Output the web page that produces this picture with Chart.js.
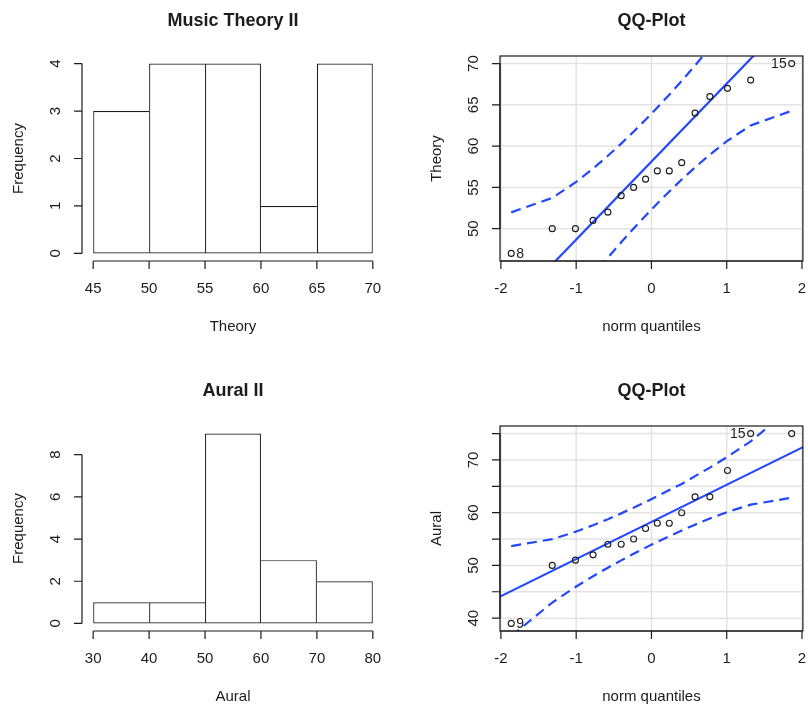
<!DOCTYPE html>
<html>
<head>
<meta charset="utf-8">
<title>Music Theory II / Aural II</title>
<script src="https://cdn.jsdelivr.net/npm/chart.js@4.4.1/dist/chart.umd.min.js"></script>
<style>
  html, body { margin: 0; padding: 0; background: #fff; }
  #wrap { position: relative; width: 808px; height: 706px; overflow: hidden; }
  #wrap canvas { position: absolute; }
</style>
</head>
<body>
<div id="wrap">
  <canvas id="histTheory" width="418" height="370" style="left:0;top:0"></canvas>
  <canvas id="qqTheory" width="390" height="370" style="left:418px;top:0"></canvas>
  <canvas id="histAural" width="418" height="336" style="left:0;top:370px"></canvas>
  <canvas id="qqAural" width="390" height="336" style="left:418px;top:370px"></canvas>
</div>
<script>
// histogram breaks and counts
const theoryBreaks = [45, 50, 55, 60, 65, 70];
const theoryCounts = [3, 4, 4, 1, 4];
const auralBreaks = [30, 40, 50, 60, 70, 80];
const auralCounts = [1, 1, 9, 3, 2];

// axis ticks
const theoryFreqTicks = [0, 1, 2, 3, 4];
const auralFreqTicks = [0, 2, 4, 6, 8];
const quantileTicks = [-2, -1, 0, 1, 2];
const theoryScoreTicks = [50, 55, 60, 65, 70];
const auralScoreTicks = [40, 45, 50, 55, 60, 65, 70, 75];
const auralScoreLabels = ['40', '', '50', '', '60', '', '70', ''];

// normal quantiles of the 16 sorted scores
const normQuantiles = [-1.863, -1.318, -1.010, -0.776, -0.579, -0.402, -0.237, -0.078,
                        0.078, 0.237, 0.402, 0.579, 0.776, 1.010, 1.318, 1.863];

// Theory: sorted scores, reference line and 95% envelope
const theoryScores = [47, 50, 50, 51, 52, 54, 55, 56, 57, 57, 58, 64, 66, 67, 68, 70];
const theoryUpper = [51.97, 53.73, 55.60, 57.28, 58.83, 60.30, 61.75, 63.20,
                     64.68, 66.23, 67.90, 69.77, 71.95, 74.69, 78.64, 87.18];
const theoryLower = [29.07, 37.61, 41.56, 44.30, 46.48, 48.35, 50.02, 51.57,
                     53.06, 54.50, 55.95, 57.42, 58.97, 60.65, 62.51, 64.28];
const theoryLineEnds = [[-2.1, 38.28], [2.1, 77.97]];
const theoryIds = [[0, '8'], [15, '15']];

// Aural: sorted scores, reference line and 95% envelope
const auralScores = [39, 50, 51, 52, 54, 54, 55, 57, 58, 58, 60, 63, 63, 68, 75, 75];
const auralUpper = [53.66, 54.98, 56.37, 57.62, 58.77, 59.87, 60.95, 62.03,
                    63.13, 64.29, 65.45, 66.93, 68.55, 70.60, 73.54, 79.91];
const auralLower = [36.59, 42.96, 45.91, 47.95, 49.57, 50.96, 52.21, 53.37,
                    54.47, 55.55, 56.62, 57.73, 58.89, 60.14, 61.52, 62.84];
const auralLineEnds = [[-2.1, 43.46], [2.1, 73.04]];
const auralIds = [[0, '9'], [14, '15']];

const FONT = '"Liberation Sans", Arial, Helvetica, sans-serif';
const INK = '#1c1c1c';
const BLUE = '#2347ff';

// R-style limits: data range stretched by 4% on each side
function rRange(values) {
  const lo = Math.min(...values), hi = Math.max(...values);
  const pad = (hi - lo) * 0.04;
  return [lo - pad, hi + pad];
}

// draws base-graphics style axes, titles, grid and point ids
function rPanel(spec) {
  return {
    id: 'rPanel',
    beforeDatasetsDraw(chart) {
      if (!spec.grid) return;
      const { ctx, chartArea: a, scales: { x, y } } = chart;
      ctx.save();
      ctx.strokeStyle = '#e3e3e3';
      ctx.lineWidth = 1.5;
      ctx.beginPath();
      spec.xTicks.forEach(v => {
        const px = x.getPixelForValue(v);
        ctx.moveTo(px, a.top);
        ctx.lineTo(px, a.bottom);
      });
      spec.yTicks.forEach(v => {
        const py = y.getPixelForValue(v);
        ctx.moveTo(a.left, py);
        ctx.lineTo(a.right, py);
      });
      ctx.stroke();
      ctx.restore();
    },
    afterDatasetsDraw(chart) {
      const { ctx, chartArea: a, scales: { x, y } } = chart;
      ctx.save();
      ctx.strokeStyle = INK;
      ctx.fillStyle = INK;
      ctx.lineWidth = 1.2;
      if (spec.box) ctx.strokeRect(a.left, a.top, a.right - a.left, a.bottom - a.top);

      const xs = spec.xTicks.map(v => x.getPixelForValue(v));
      const ys = spec.yTicks.map(v => y.getPixelForValue(v));
      ctx.beginPath();
      ctx.moveTo(xs[0], a.bottom);
      ctx.lineTo(xs[xs.length - 1], a.bottom);
      xs.forEach(px => { ctx.moveTo(px, a.bottom); ctx.lineTo(px, a.bottom + 8); });
      ctx.moveTo(a.left, ys[0]);
      ctx.lineTo(a.left, ys[ys.length - 1]);
      ys.forEach(py => { ctx.moveTo(a.left, py); ctx.lineTo(a.left - 8, py); });
      ctx.stroke();

      ctx.font = '15px ' + FONT;
      ctx.textAlign = 'center';
      ctx.textBaseline = 'alphabetic';
      spec.xTicks.forEach((v, i) => ctx.fillText(String(v), xs[i], a.bottom + 32));
      const yLabels = spec.yLabels || spec.yTicks.map(String);
      ys.forEach((py, i) => {
        if (!yLabels[i]) return;
        ctx.save();
        ctx.translate(a.left - 22, py);
        ctx.rotate(-Math.PI / 2);
        ctx.fillText(yLabels[i], 0, 0);
        ctx.restore();
      });

      // axis titles
      ctx.fillText(spec.xTitle, (a.left + a.right) / 2, a.bottom + 70);
      ctx.save();
      ctx.translate(23, (a.top + a.bottom) / 2);
      ctx.rotate(-Math.PI / 2);
      ctx.fillText(spec.yTitle, 0, 0);
      ctx.restore();

      ctx.font = 'bold 18px ' + FONT;
      ctx.fillText(spec.title, (a.left + a.right) / 2, 26);

      // labels of the extreme points
      if (spec.ids) {
        const meta = chart.getDatasetMeta(0);
        ctx.font = '14px ' + FONT;
        ctx.textBaseline = 'middle';
        spec.ids.forEach(([idx, txt]) => {
          const el = meta.data[idx];
          const right = idx < meta.data.length / 2;
          ctx.textAlign = right ? 'left' : 'right';
          ctx.fillText(txt, el.x + (right ? 5 : -5), el.y + 1);
        });
      }
      ctx.restore();
    }
  };
}

function baseOptions(canvas, xRange, yRange, xExtra) {
  return {
    responsive: false,
    animation: false,
    events: [],
    layout: { padding: { left: 82, top: 56, right: canvas.width - (canvas.width > 400 ? 384 : 385), bottom: canvas.height - 261 } },
    plugins: { legend: { display: false }, tooltip: { enabled: false }, title: { display: false } },
    scales: {
      x: Object.assign({ type: 'linear', display: false, offset: false, min: xRange[0], max: xRange[1] }, xExtra || {}),
      y: { type: 'linear', display: false, min: yRange[0], max: yRange[1] }
    }
  };
}

function histChart(id, breaks, counts, spec) {
  const canvas = document.getElementById(id);
  const last = counts.length - 1;
  const edge = 1.2;
  new Chart(canvas, {
    type: 'bar',
    data: {
      datasets: [{
        data: counts.map((c, i) => ({ x: (breaks[i] + breaks[i + 1]) / 2, y: c })),
        backgroundColor: '#ffffff',
        borderColor: INK,
        borderSkipped: false,
        inflateAmount: 0,
        // shared edges drawn once, by the taller bar
        borderWidth: c => {
          const i = c.dataIndex;
          return {
            top: edge, bottom: edge,
            left: i === 0 || counts[i - 1] <= counts[i] ? edge : 0,
            right: i === last || counts[i + 1] < counts[i] ? edge : 0
          };
        },
        barPercentage: 1,
        categoryPercentage: 1
      }]
    },
    options: baseOptions(canvas, rRange(breaks), rRange([0, Math.max(...counts)]), {
      afterBuildTicks: s => { s.ticks = breaks.map(v => ({ value: v })); }
    }),
    plugins: [rPanel(Object.assign({ xTicks: breaks }, spec))]
  });
}

function qqChart(id, scores, upper, lower, lineEnds, spec) {
  const canvas = document.getElementById(id);
  const band = arr => normQuantiles.map((q, i) => ({ x: q, y: arr[i] }));
  new Chart(canvas, {
    type: 'scatter',
    data: {
      datasets: [
        {
          data: band(scores),
          pointRadius: 3,
          pointBorderWidth: 1.1,
          borderColor: INK,
          pointBorderColor: INK,
          backgroundColor: 'rgba(0,0,0,0)',
          pointBackgroundColor: 'rgba(0,0,0,0)'
        },
        {
          data: lineEnds.map(([x, y]) => ({ x, y })),
          showLine: true, pointRadius: 0, borderColor: BLUE, borderWidth: 2.2
        },
        {
          data: band(upper),
          showLine: true, pointRadius: 0, borderColor: BLUE, borderWidth: 2.2, borderDash: [10, 6]
        },
        {
          data: band(lower),
          showLine: true, pointRadius: 0, borderColor: BLUE, borderWidth: 2.2, borderDash: [10, 6]
        }
      ]
    },
    options: baseOptions(canvas, rRange(normQuantiles), rRange(scores)),
    plugins: [rPanel(Object.assign({ xTicks: quantileTicks, box: true, grid: true, xTitle: 'norm quantiles', title: 'QQ-Plot' }, spec))]
  });
}

histChart('histTheory', theoryBreaks, theoryCounts, {
  yTicks: theoryFreqTicks, title: 'Music Theory II', xTitle: 'Theory', yTitle: 'Frequency'
});
histChart('histAural', auralBreaks, auralCounts, {
  yTicks: auralFreqTicks, title: 'Aural II', xTitle: 'Aural', yTitle: 'Frequency'
});
qqChart('qqTheory', theoryScores, theoryUpper, theoryLower, theoryLineEnds, {
  yTicks: theoryScoreTicks, yTitle: 'Theory', ids: theoryIds
});
qqChart('qqAural', auralScores, auralUpper, auralLower, auralLineEnds, {
  yTicks: auralScoreTicks, yLabels: auralScoreLabels, yTitle: 'Aural', ids: auralIds
});
</script>
</body>
</html>
